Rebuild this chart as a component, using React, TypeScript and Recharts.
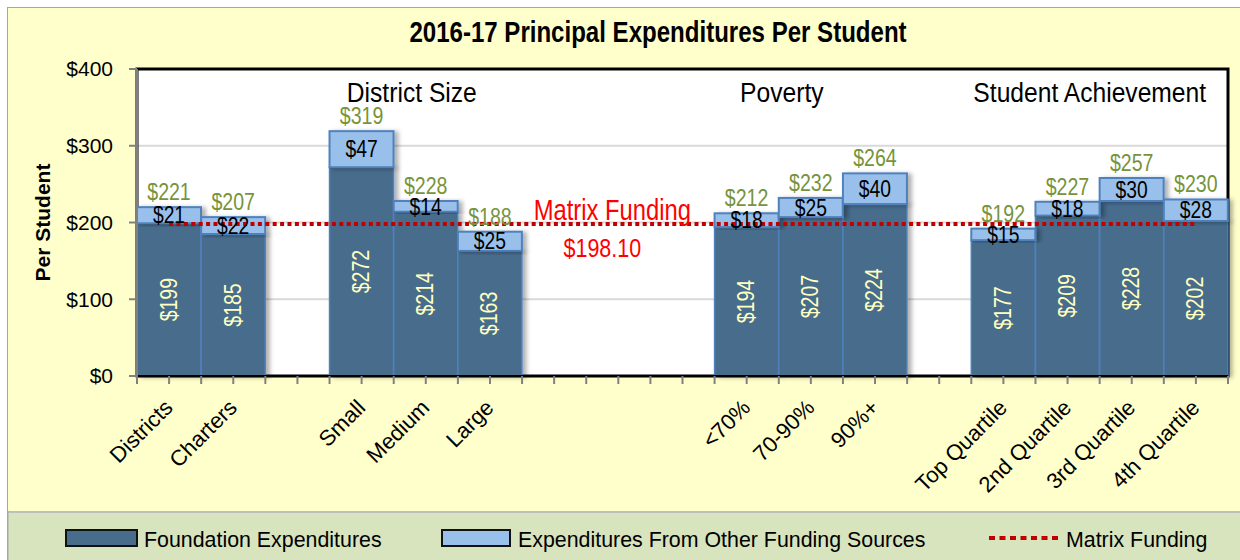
import React from 'react';
import {
  ComposedChart, Bar, Line, XAxis, YAxis, CartesianGrid, ReferenceArea,
  ReferenceDot, LabelList, Legend, Label,
} from 'recharts';

// ---------- data ----------
const categories = ['Districts', 'Charters', '', 'Small', 'Medium', 'Large', '', '', '', '<70%', '70-90%', '90%+', '', 'Top Quartile', '2nd Quartile', '3rd Quartile', '4th Quartile'];
const foundation = [199, 185, null, 272, 214, 163, null, null, null, 194, 207, 224, null, 177, 209, 228, 202];
const otherSources = [21, 22, null, 47, 14, 25, null, null, null, 18, 25, 40, null, 15, 18, 30, 28];
const totals = [221, 207, null, 319, 228, 188, null, null, null, 212, 232, 264, null, 192, 227, 257, 230];
const matrixFunding = 198.1;
const matrixLabelAt = 7;
const yTicks = [0, 100, 200, 300, 400];
const groupLabels = [
  { text: 'District Size', at: 4 },
  { text: 'Poverty', at: 10 },
  { text: 'Student Achievement', at: 15 },
];
const groupLabelValue = 370;
const legendLabels = ['Foundation Expenditures', 'Expenditures From Other Funding Sources', 'Matrix Funding'];
const chartTitle = '2016-17 Principal Expenditures Per Student';
const yAxisTitle = 'Per Student';

const data = categories.map((name, i) => ({
  id: i,
  name,
  foundation: foundation[i],
  other: otherSources[i],
  total: totals[i],
  matrix: matrixFunding,
}));

// ---------- styles ----------
const SANS = "'Liberation Sans',Arial,sans-serif";
const C_FOUND = '#476C8C';
const C_OTHER = '#99C0EA';
const C_EDGE = '#4F81BD';
const C_GREEN = '#77933C';
const C_RED = '#C00000';
const groupDx = [-14, -29, -42];

// condensed text: Liberation Sans squeezed horizontally (Arial Narrow look)
const NText = (props: any) => {
  const { x, y, size, sx = 0.86, weight = 'normal', fill = '#000', anchor = 'middle', rotate = 0, baseline, children } = props;
  const rot = rotate ? ` rotate(${rotate})` : '';
  return (
    <text
      transform={`translate(${x},${y})${rot} scale(${sx},1)`}
      textAnchor={anchor}
      dominantBaseline={baseline}
      fontSize={size}
      fontWeight={weight}
      fontFamily={SANS}
      fill={fill}
    >
      {children}
    </text>
  );
};

const XTick = (props: any) => {
  const { x, y, payload, index, width, visibleTicksCount } = props;
  const half = (payload && payload.offset) || (width && visibleTicksCount ? width / visibleTicksCount / 2 : 32);
  const label = categories[payload.value];
  const last = index === categories.length - 1;
  return (
    <g>
      <line x1={x - half} x2={x - half} y1={y} y2={y + 8} stroke="#808080" strokeWidth={2} />
      <line x1={x} x2={x} y1={y} y2={y + 8} stroke="#808080" strokeWidth={2} />
      {last && <line x1={x + half} x2={x + half} y1={y} y2={y + 8} stroke="#808080" strokeWidth={2} />}
      {label ? (
        <text transform={`translate(${x + 5},${y + 33}) rotate(-45)`} textAnchor="end" fontSize={22} fontFamily={SANS} fill="#000">
          {label}
        </text>
      ) : null}
    </g>
  );
};

const YLabel = (props: any) => {
  const vb = props.viewBox || { x: 0, y: 69, width: 137, height: 307 };
  return (
    <text transform={`translate(${vb.x + 50},${vb.y + vb.height / 2}) rotate(-90)`} textAnchor="middle" fontSize={21} fontWeight="bold" fontFamily={SANS} fill="#000">
      {yAxisTitle}
    </text>
  );
};

const FoundationShape = (p: any) => {
  const { x, y, width, height } = p;
  if (!height || height <= 0) return <g />;
  return (
    <g filter="url(#barShadow)">
      <rect x={x} y={y} width={width} height={height} fill={C_FOUND} stroke={C_EDGE} strokeWidth={1.5} />
      <line x1={x} x2={x + width} y1={y} y2={y} stroke="#1F1F1F" strokeWidth={2} />
    </g>
  );
};

const OtherShape = (p: any) => {
  const { x, y, width, height } = p;
  if (!height || height <= 0) return <g />;
  return (
    <g filter="url(#barShadow)">
      <rect x={x} y={y} width={width} height={height} fill={C_OTHER} stroke={C_EDGE} strokeWidth={2} />
    </g>
  );
};

const FoundationLabel = (p: any) => {
  const { x, y, width, height, value } = p;
  if (value == null) return null;
  return (
    <NText x={x + width / 2} y={y + height / 2} rotate={-90} size={23} sx={0.85} baseline="central" fill="#FFFFC0">
      {`$${value}`}
    </NText>
  );
};

const OtherLabel = (p: any) => {
  const { x, y, width, height, value } = p;
  if (value == null) return null;
  return (
    <NText x={x + width / 2} y={y + height / 2} size={23} sx={0.84} baseline="central">
      {`$${value}`}
    </NText>
  );
};

const TotalLabel = (p: any) => {
  const { x, y, width, value } = p;
  if (value == null) return null;
  return (
    <NText x={x + width / 2} y={y - 7} size={23} sx={0.85} fill={C_GREEN}>
      {`$${value}`}
    </NText>
  );
};

const MatrixLabel = (p: any) => {
  const { x, y, value, index } = p;
  if (index !== matrixLabelAt || value == null) return null;
  return (
    <g>
      <NText x={x - 6} y={y - 4} size={29} sx={0.82} fill="#FF0000">
        {legendLabels[2]}
      </NText>
      <NText x={x - 16} y={y + 33} size={25} sx={0.86} fill="#FF0000">
        {`$${Number(value).toFixed(2)}`}
      </NText>
    </g>
  );
};

const makeGroupLabel = (text: string, dx: number) => (p: any) => {
  const vb = p.viewBox || { x: 0, y: 0 };
  return (
    <NText x={vb.x + dx} y={vb.y + 10} size={28} sx={0.88}>
      {text}
    </NText>
  );
};

const LegendContent = () => (
  <svg width={1233} height={49} style={{ display: 'block' }}>
    <rect x={0} y={0} width={1233} height={49} fill="#D7E4BD" />
    <line x1={0} x2={1233} y1={1} y2={1} stroke="#BFBFBF" strokeWidth={2} />
    <line x1={0.75} x2={0.75} y1={0} y2={49} stroke="#A6A6A6" strokeWidth={1.5} />
    <rect x={59} y={19} width={71} height={16} fill={C_FOUND} stroke="#111" strokeWidth={2} />
    <NText x={137} y={36} size={23} sx={0.93} anchor="start">{legendLabels[0]}</NText>
    <rect x={435} y={19} width={68} height={16} fill={C_OTHER} stroke="#111" strokeWidth={2} />
    <NText x={511} y={36} size={23} sx={0.93} anchor="start">{legendLabels[1]}</NText>
    <line x1={982} x2={1051} y1={27} y2={27} stroke={C_RED} strokeWidth={4} strokeDasharray="6 4.5" />
    <NText x={1059} y={36} size={23} sx={0.93} anchor="start">{legendLabels[2]}</NText>
  </svg>
);

export default function App() {
  return (
    <div style={{ position: 'absolute', left: 0, top: 0, width: 1240, height: 560, background: '#FFFFFF', overflow: 'hidden' }}>
      <div style={{ position: 'absolute', left: 7, top: 7, width: 1240, height: 560, background: '#FFFFCC', borderLeft: '1.5px solid #A6A6A6', borderTop: '1.5px solid #A6A6A6' }} />
      <svg width={1240} height={60} style={{ position: 'absolute', left: 0, top: 0 }}>
        <NText x={658} y={42} size={29} sx={0.83} weight="bold">
          {chartTitle}
        </NText>
      </svg>
      <div style={{ position: 'absolute', left: 0, top: 0 }}>
        <ComposedChart
          width={1240}
          height={560}
          data={data}
          margin={{ top: 69, right: 12, left: 0, bottom: 0 }}
          barCategoryGap={0}
          barGap={0}
        >
          <defs>
            <filter id="barShadow" x="-20%" y="-20%" width="150%" height="140%">
              <feDropShadow dx="4" dy="1" stdDeviation="2" floodColor="#000" floodOpacity="0.3" />
            </filter>
          </defs>
          <CartesianGrid vertical={false} stroke="#D9D9D9" strokeWidth={2} fill="#FFFFFF" />
          <XAxis
            dataKey="id"
            type="category"
            interval={0}
            tick={<XTick />}
            tickLine={false}
            tickSize={0}
            tickMargin={0}
            height={135}
            axisLine={{ stroke: '#000', strokeWidth: 2 }}
          />
          <YAxis
            domain={[0, 400]}
            ticks={yTicks}
            width={137}
            tickSize={8}
            tickMargin={16}
            tickFormatter={(v: number) => `$${v}`}
            tick={{ fill: '#000', fontSize: 21, fontFamily: SANS }}
            axisLine={{ stroke: '#808080', strokeWidth: 2 }}
            tickLine={{ stroke: '#808080', strokeWidth: 2 }}
            label={<Label content={YLabel} />}
          />
          <ReferenceArea y1={0} y2={400} fill="none" fillOpacity={0} stroke="#000" strokeWidth={3} ifOverflow="visible" />
          <Bar dataKey="foundation" stackId="a" shape={FoundationShape} isAnimationActive={false} legendType="rect">
            <LabelList dataKey="foundation" content={FoundationLabel} />
          </Bar>
          <Bar dataKey="other" stackId="a" shape={OtherShape} isAnimationActive={false} legendType="rect">
            <LabelList dataKey="other" content={OtherLabel} />
            <LabelList dataKey="total" content={TotalLabel} />
          </Bar>
          <Line
            dataKey="matrix"
            type="linear"
            stroke={C_RED}
            strokeWidth={4}
            strokeDasharray="4 3.4"
            dot={false}
            activeDot={false}
            isAnimationActive={false}
          >
            <LabelList dataKey="matrix" content={MatrixLabel} />
          </Line>
          {groupLabels.map((g, i) => (
            <ReferenceDot
              key={g.text}
              x={g.at}
              y={groupLabelValue}
              r={0}
              fill="none"
              stroke="none"
              label={<Label content={makeGroupLabel(g.text, groupDx[i])} />}
            />
          ))}
          <Legend
            verticalAlign="bottom"
            height={49}
            wrapperStyle={{ left: 7, bottom: 0, width: 1233, height: 49 }}
            content={LegendContent}
          />
        </ComposedChart>
      </div>
    </div>
  );
}
